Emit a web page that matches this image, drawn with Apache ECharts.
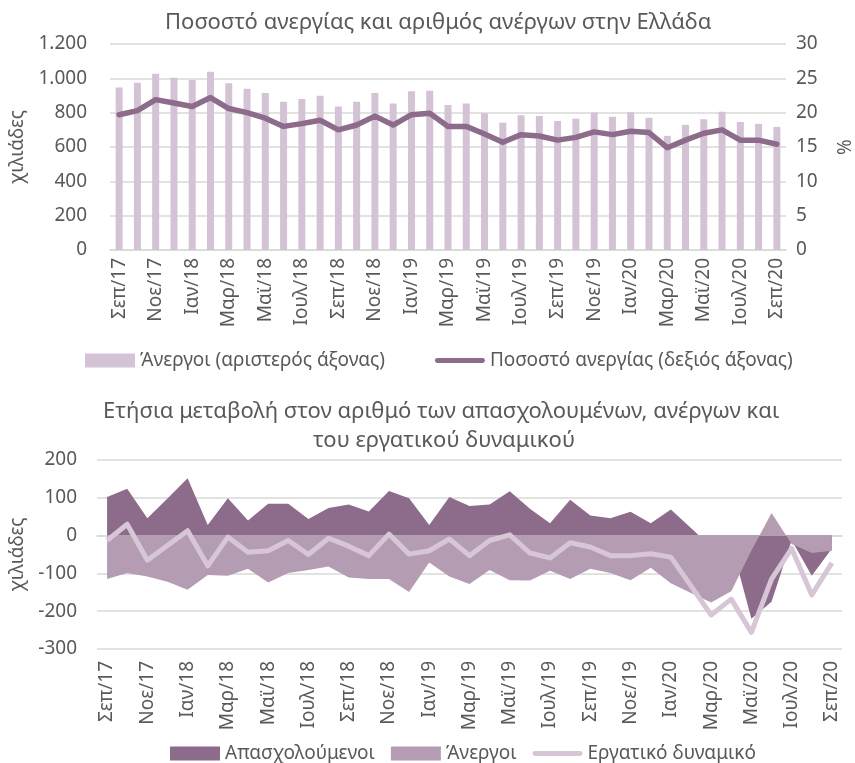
<!DOCTYPE html>
<html>
<head>
<meta charset="utf-8">
<script src="https://cdn.jsdelivr.net/npm/echarts@6/dist/echarts.min.js"></script>
<style>
  html, body { margin: 0; padding: 0; background: #fff; }
  #chart { width: 855px; height: 763px; }
</style>
</head>
<body>
<div id="chart"></div>
<script>
// μήνες Σεπ/17 - Σεπ/20
const months = ["Σεπ/17","Οκτ/17","Νοε/17","Δεκ/17","Ιαν/18","Φεβ/18","Μαρ/18","Απρ/18","Μαϊ/18","Ιουν/18",
  "Ιουλ/18","Αυγ/18","Σεπ/18","Οκτ/18","Νοε/18","Δεκ/18","Ιαν/19","Φεβ/19","Μαρ/19","Απρ/19",
  "Μαϊ/19","Ιουν/19","Ιουλ/19","Αυγ/19","Σεπ/19","Οκτ/19","Νοε/19","Δεκ/19","Ιαν/20","Φεβ/20",
  "Μαρ/20","Απρ/20","Μαϊ/20","Ιουν/20","Ιουλ/20","Αυγ/20","Σεπ/20"];

// πάνω διάγραμμα
const unemployed = [946, 975, 1026, 1003, 991, 1038, 972, 939, 914, 863,
  879, 898, 836, 863, 915, 853, 925, 927, 845, 853,
  797, 742, 785, 781, 752, 764, 801, 776, 803, 770,
  665, 729, 762, 806, 746, 735, 717];
const unemploymentRate = [19.7, 20.3, 21.9, 21.4, 20.9, 22.2, 20.6, 20.0, 19.2, 18.0,
  18.4, 18.9, 17.5, 18.2, 19.5, 18.2, 19.7, 19.9, 18.0, 18.0,
  16.9, 15.7, 16.8, 16.6, 16.0, 16.4, 17.2, 16.8, 17.3, 17.1,
  14.9, 16.0, 17.0, 17.5, 16.0, 16.0, 15.4];

// κάτω διάγραμμα (ετήσια μεταβολή, χιλιάδες)
const employedChange = [102, 124, 46, 98, 152, 28, 99, 40, 84, 84,
  44, 73, 82, 64, 118, 99, 28, 102, 78, 82,
  117, 71, 33, 95, 53, 46, 63, 33, 69, 20,
  -30, -21, -220, -175, -12, -106, -34];
const unemployedChange = [-115, -99, -108, -122, -143, -104, -106, -88, -124, -99,
  -91, -82, -111, -115, -115, -149, -71, -108, -128, -91,
  -118, -119, -93, -115, -88, -99, -118, -85, -126, -152,
  -177, -147, -40, 60, -22, -46, -40];
const labourForceChange = [-13, 30, -65, -26, 13, -80, -4, -44, -40, -13,
  -50, -7, -28, -53, 4, -49, -40, -9, -53, -13,
  2, -46, -59, -19, -30, -53, -53, -48, -57, -133,
  -210, -168, -256, -115, -34, -157, -72];

const leftTicks = [0, 1200, 200];
const rightTicks = [0, 30, 5];
const bottomTicks = [-300, 200, 100];

const txt = "#595959";
const gridCol = "#d9d9d9";
const font = "Noto Sans";
const lineIcon = "path://M2,0L48,0A2.5,2.5,0,0,1,48,5L2,5A2.5,2.5,0,0,1,2,0Z";

const fmtThousands = v => String(v).replace(/(\d)(\d{3})$/, "$1.$2");

const chart = echarts.init(document.getElementById("chart"));

const labelStyle = { color: txt, fontSize: 19, fontFamily: font };

const catAxis = (gridIndex, extra) => Object.assign({
  type: "category",
  gridIndex: gridIndex,
  data: months,
  boundaryGap: true,
  axisLine: { lineStyle: { color: gridCol, width: 1.5 } },
  axisTick: { interval: 1, length: 6, lineStyle: { color: gridCol, width: 1.5 } },
  axisLabel: Object.assign({ interval: 1, rotate: 90, margin: 8 }, labelStyle)
}, extra);

const titleStyle = { fontSize: 22, fontWeight: "normal", color: txt, fontFamily: font };

chart.setOption({
  animation: false,
  textStyle: { fontFamily: font, color: txt },
  title: [
    { text: "Ποσοστό ανεργίας και αριθμός ανέργων στην Ελλάδα", left: 160, top: 7, textStyle: titleStyle },
    { text: "Ετήσια μεταβολή στον αριθμό των απασχολουμένων, ανέργων και", left: 98, top: 396, textStyle: titleStyle },
    { text: "του εργατικού δυναμικού", left: 308, top: 425, textStyle: titleStyle }
  ],
  // όνομα δεξιού άξονα
  graphic: [
    {
      type: "text", x: 846, y: 147, rotation: Math.PI / 2,
      style: { text: "%", align: "center", verticalAlign: "middle", fontSize: 19, fontFamily: font, fill: txt }
    }
  ],
  legend: [
    {
      top: 346, left: 80,
      itemWidth: 50, itemHeight: 14, itemGap: 50,
      textStyle: labelStyle,
      data: [
        { name: "Άνεργοι (αριστερός άξονας)", icon: "rect" },
        { name: "Ποσοστό ανεργίας (δεξιός άξονας)", icon: lineIcon }
      ]
    },
    {
      top: 739, left: 165,
      itemWidth: 50, itemHeight: 14, itemGap: 16,
      textStyle: labelStyle,
      data: [
        { name: "Απασχολούμενοι", icon: "rect" },
        { name: "Άνεργοι", icon: "rect" },
        { name: "Εργατικό δυναμικό", icon: lineIcon }
      ]
    }
  ],
  grid: [
    { left: 110, right: 69, top: 44, height: 206, outerBoundsMode: "none" },
    { left: 97, right: 13, top: 460, height: 189, outerBoundsMode: "none" }
  ],
  xAxis: [
    catAxis(0, {}),
    catAxis(1, {
      axisLine: { show: false, onZero: false },
      axisTick: { show: false },
      axisLabel: Object.assign({ interval: 1, rotate: 90, margin: 12 }, labelStyle)
    }),
    catAxis(1, {
      axisLine: { onZero: true, lineStyle: { color: gridCol, width: 1.5 } },
      axisLabel: { show: false }
    })
  ],
  yAxis: [
    {
      type: "value", gridIndex: 0,
      min: leftTicks[0], max: leftTicks[1], interval: leftTicks[2],
      name: "χιλιάδες", nameLocation: "middle", nameGap: 75, nameRotate: 90,
      nameTextStyle: labelStyle,
      axisLabel: Object.assign({ margin: 23, formatter: fmtThousands }, labelStyle),
      axisLine: { show: false }, axisTick: { show: false },
      splitLine: { lineStyle: { color: gridCol, width: 1.5 } }
    },
    {
      type: "value", gridIndex: 0, position: "right",
      min: rightTicks[0], max: rightTicks[1], interval: rightTicks[2],
      axisLabel: Object.assign({ margin: 10 }, labelStyle),
      axisLine: { show: false }, axisTick: { show: false },
      splitLine: { show: false }
    },
    {
      type: "value", gridIndex: 1,
      min: bottomTicks[0], max: bottomTicks[1], interval: bottomTicks[2],
      name: "χιλιάδες", nameLocation: "middle", nameGap: 59, nameRotate: 90,
      nameTextStyle: labelStyle,
      axisLabel: Object.assign({ margin: 20 }, labelStyle),
      axisLine: { show: false }, axisTick: { show: false },
      splitLine: { lineStyle: { color: gridCol, width: 1.5 } }
    }
  ],
  series: [
    {
      name: "Άνεργοι (αριστερός άξονας)",
      type: "bar", xAxisIndex: 0, yAxisIndex: 0,
      data: unemployed, barWidth: 7,
      itemStyle: { color: "#d3c3d4" }
    },
    {
      name: "Ποσοστό ανεργίας (δεξιός άξονας)",
      type: "line", xAxisIndex: 0, yAxisIndex: 1,
      data: unemploymentRate, symbol: "none",
      lineStyle: { color: "#8c6b8b", width: 5.5, cap: "round", join: "round" },
      itemStyle: { color: "#8c6b8b" }
    },
    {
      name: "Απασχολούμενοι",
      type: "line", xAxisIndex: 1, yAxisIndex: 2,
      data: employedChange, symbol: "none",
      lineStyle: { width: 0 },
      areaStyle: { color: "#8d6b8a", opacity: 1, origin: 0 },
      itemStyle: { color: "#8d6b8a" }
    },
    {
      name: "Άνεργοι",
      type: "line", xAxisIndex: 1, yAxisIndex: 2,
      data: unemployedChange, symbol: "none",
      lineStyle: { width: 0 },
      areaStyle: { color: "#b49cb3", opacity: 1, origin: 0 },
      itemStyle: { color: "#b49cb3" }
    },
    {
      name: "Εργατικό δυναμικό",
      type: "line", xAxisIndex: 1, yAxisIndex: 2,
      data: labourForceChange, symbol: "none",
      lineStyle: { color: "#d6c6d6", width: 5, join: "round" },
      itemStyle: { color: "#d6c6d6" },
      z: 3
    }
  ]
});
</script>
</body>
</html>
